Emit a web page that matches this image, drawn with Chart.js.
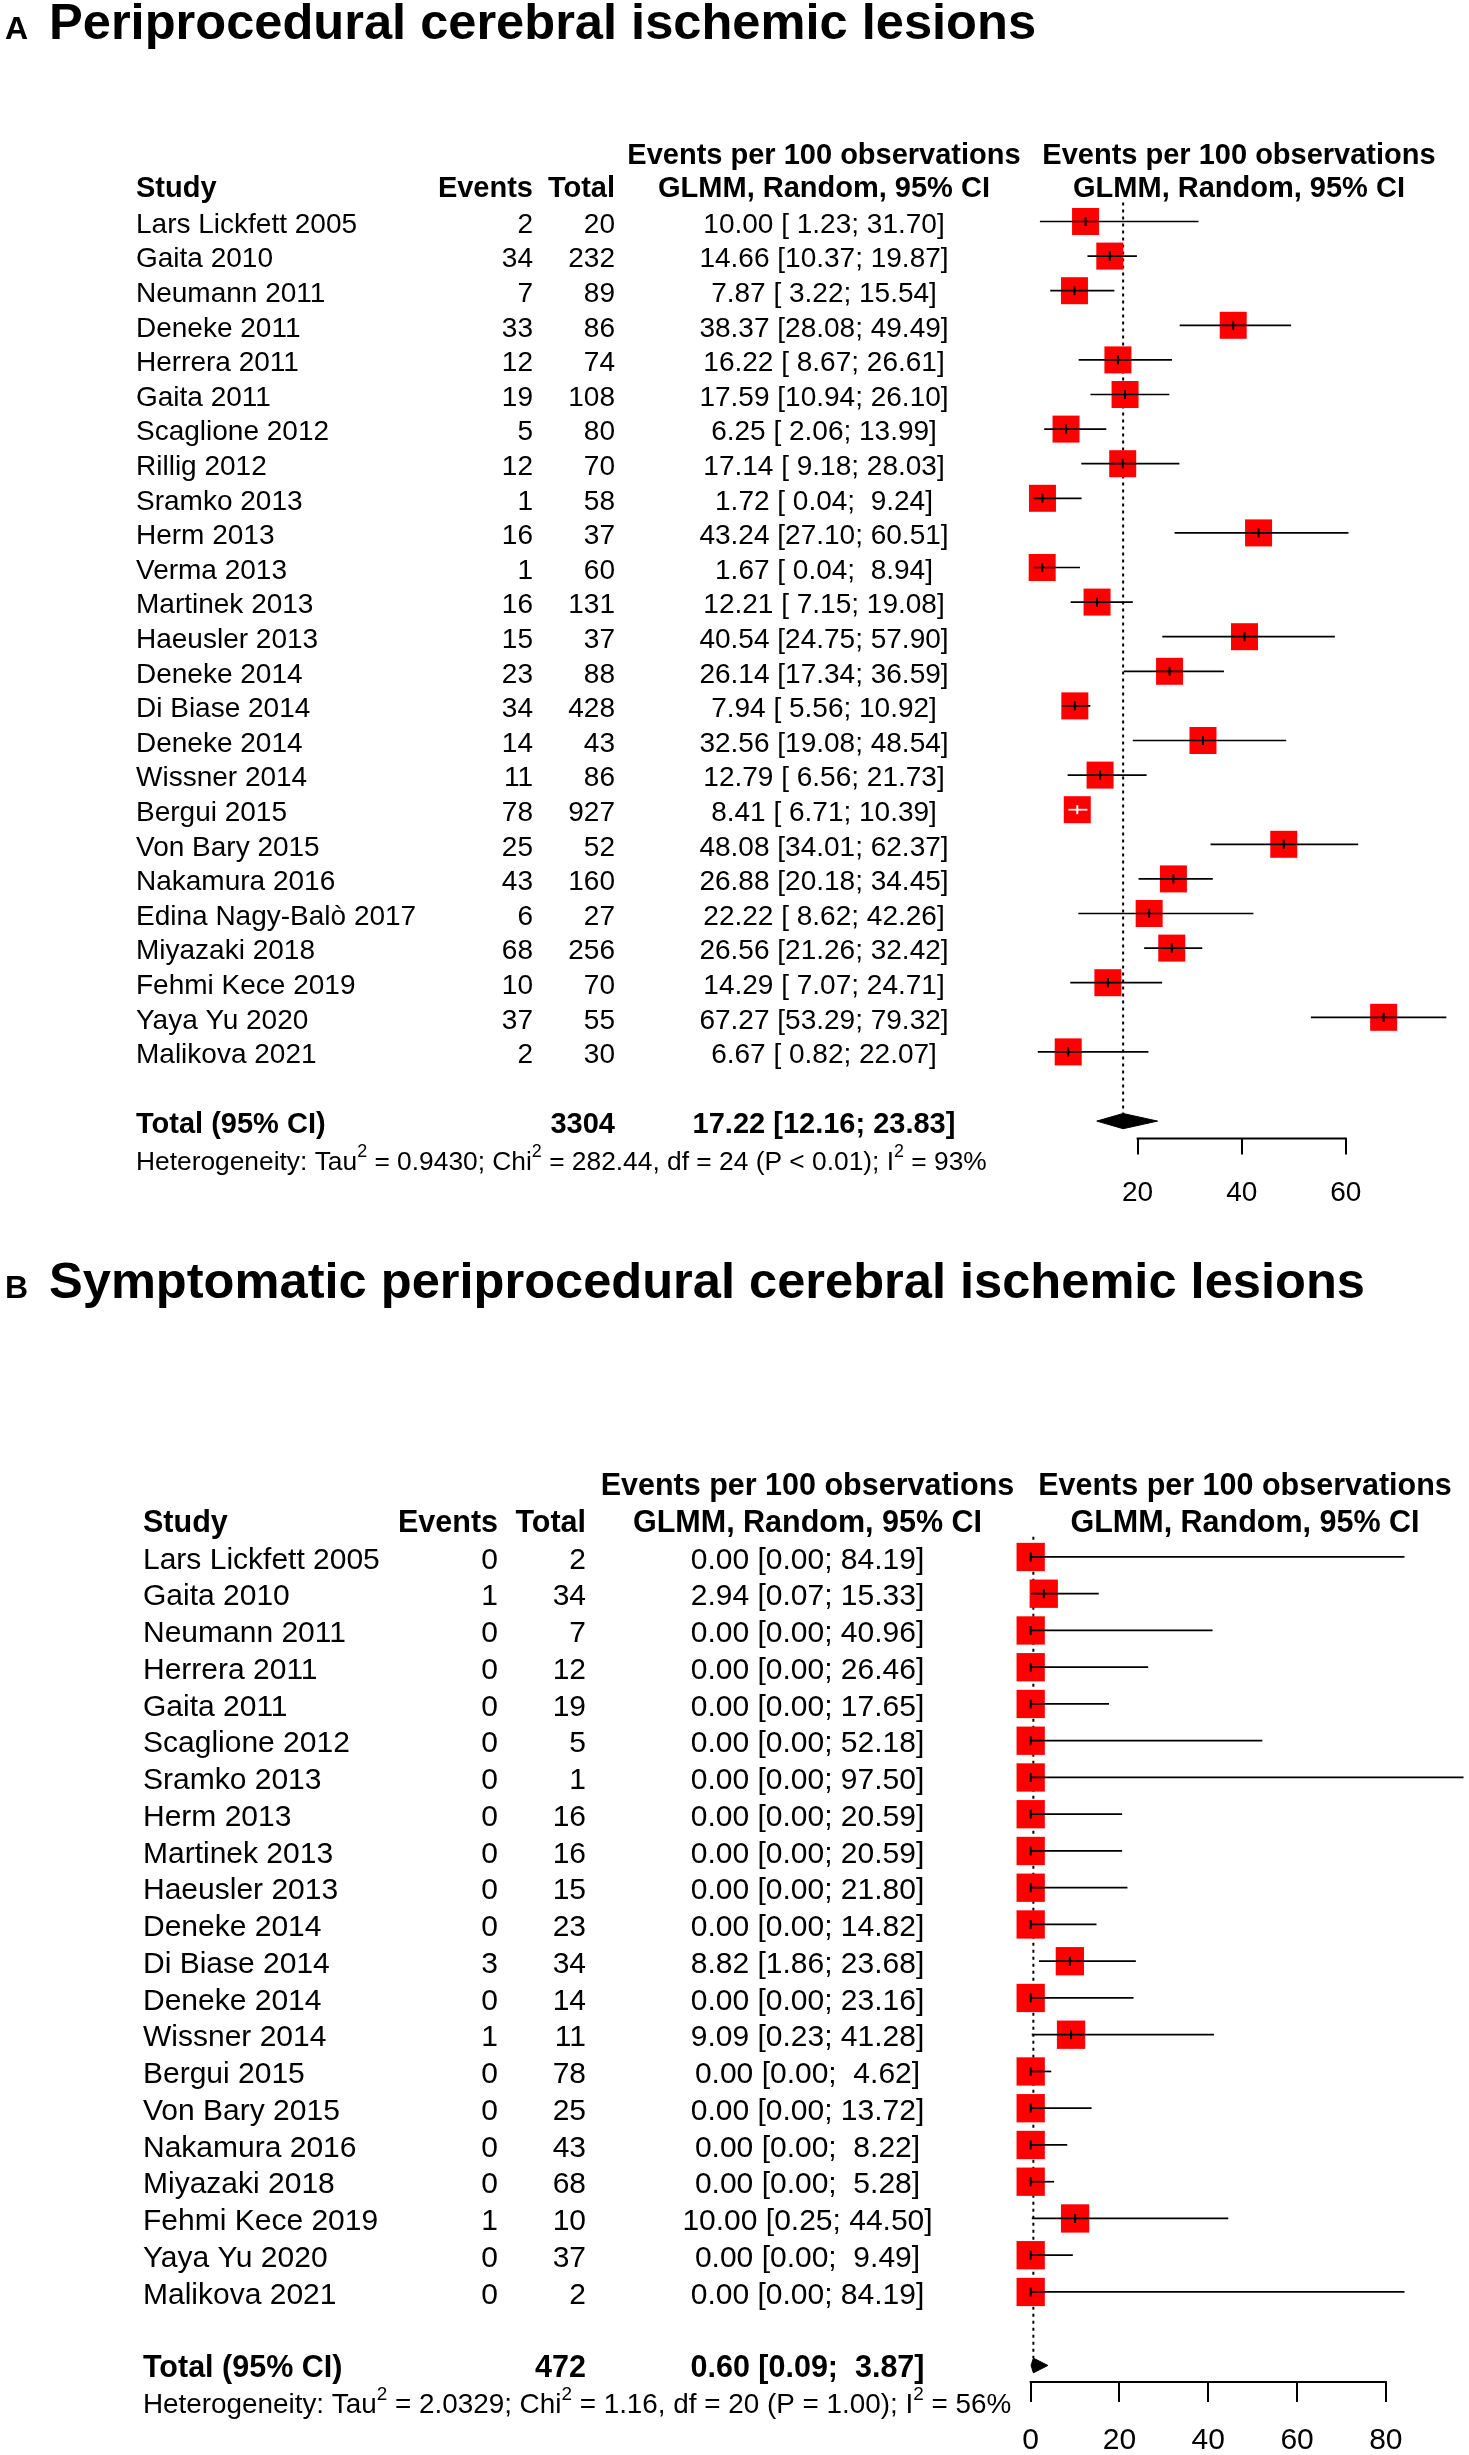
<!DOCTYPE html>
<html>
<head>
<meta charset="utf-8">
<title>Periprocedural cerebral ischemic lesions - forest plots</title>
<script src="https://cdn.jsdelivr.net/npm/chart.js@4.4.0/dist/chart.umd.min.js"></script>
<style>
    html, body { margin: 0; padding: 0; background: #fff; }
    body { width: 1469px; height: 2455px; position: relative; overflow: hidden; font-family: "Liberation Sans", Arial, sans-serif; color: #000; }
    .panel { position: absolute; left: 0; width: 1469px; }
    .panel canvas { position: absolute; left: 0; top: 0; }
    .tag { position: absolute; font-weight: bold; font-size: 32px; line-height: 1; }
    .title { position: absolute; font-weight: bold; font-size: 50.6px; line-height: 1; white-space: nowrap; }
</style>
</head>
<body>

<div class="panel" style="top:0; height:1230px;">
    <canvas id="chartA" width="1469" height="1230"></canvas>
    <div class="tag" style="left:5px; top:12px;">A</div>
    <div class="title" style="left:49px; top:-3px;">Periprocedural cerebral ischemic lesions</div>
</div>

<div class="panel" style="top:1230px; height:1225px;">
    <canvas id="chartB" width="1469" height="1225"></canvas>
    <div class="tag" style="left:5px; top:41px;">B</div>
    <div class="title" style="left:49px; top:26px;">Symptomatic periprocedural cerebral ischemic lesions</div>
</div>

<script>
const FONT = '"Liberation Sans", Arial, sans-serif';

// ---- Panel A: all periprocedural lesions ----
const studiesA = ['Lars Lickfett 2005', 'Gaita 2010', 'Neumann 2011', 'Deneke 2011', 'Herrera 2011',
    'Gaita 2011', 'Scaglione 2012', 'Rillig 2012', 'Sramko 2013', 'Herm 2013', 'Verma 2013',
    'Martinek 2013', 'Haeusler 2013', 'Deneke 2014', 'Di Biase 2014', 'Deneke 2014', 'Wissner 2014',
    'Bergui 2015', 'Von Bary 2015', 'Nakamura 2016', 'Edina Nagy-Balò 2017', 'Miyazaki 2018',
    'Fehmi Kece 2019', 'Yaya Yu 2020', 'Malikova 2021'];
const eventsA = [2, 34, 7, 33, 12, 19, 5, 12, 1, 16, 1, 16, 15, 23, 34, 14, 11, 78, 25, 43, 6, 68, 10, 37, 2];
const totalsA = [20, 232, 89, 86, 74, 108, 80, 70, 58, 37, 60, 131, 37, 88, 428, 43, 86, 927, 52, 160, 27, 256, 70, 55, 30];
const estA = [10.00, 14.66, 7.87, 38.37, 16.22, 17.59, 6.25, 17.14, 1.72, 43.24, 1.67, 12.21, 40.54,
    26.14, 7.94, 32.56, 12.79, 8.41, 48.08, 26.88, 22.22, 26.56, 14.29, 67.27, 6.67];
const lowerA = [1.23, 10.37, 3.22, 28.08, 8.67, 10.94, 2.06, 9.18, 0.04, 27.10, 0.04, 7.15, 24.75,
    17.34, 5.56, 19.08, 6.56, 6.71, 34.01, 20.18, 8.62, 21.26, 7.07, 53.29, 0.82];
const upperA = [31.70, 19.87, 15.54, 49.49, 26.61, 26.10, 13.99, 28.03, 9.24, 60.51, 8.94, 19.08, 57.90,
    36.59, 10.92, 48.54, 21.73, 10.39, 62.37, 34.45, 42.26, 32.42, 24.71, 79.32, 22.07];
const pooledA = [17.22, 12.16, 23.83];
const nTotalA = 3304;
const hetA = ['0.9430', '282.44', '24', '< 0.01', '93%'];
const ticksA = [20, 40, 60];

// ---- Panel B: symptomatic lesions ----
const studiesB = ['Lars Lickfett 2005', 'Gaita 2010', 'Neumann 2011', 'Herrera 2011', 'Gaita 2011',
    'Scaglione 2012', 'Sramko 2013', 'Herm 2013', 'Martinek 2013', 'Haeusler 2013', 'Deneke 2014',
    'Di Biase 2014', 'Deneke 2014', 'Wissner 2014', 'Bergui 2015', 'Von Bary 2015', 'Nakamura 2016',
    'Miyazaki 2018', 'Fehmi Kece 2019', 'Yaya Yu 2020', 'Malikova 2021'];
const eventsB = [0, 1, 0, 0, 0, 0, 0, 0, 0, 0, 0, 3, 0, 1, 0, 0, 0, 0, 1, 0, 0];
const totalsB = [2, 34, 7, 12, 19, 5, 1, 16, 16, 15, 23, 34, 14, 11, 78, 25, 43, 68, 10, 37, 2];
const estB = [0.00, 2.94, 0.00, 0.00, 0.00, 0.00, 0.00, 0.00, 0.00, 0.00, 0.00, 8.82, 0.00, 9.09,
    0.00, 0.00, 0.00, 0.00, 10.00, 0.00, 0.00];
const lowerB = [0.00, 0.07, 0.00, 0.00, 0.00, 0.00, 0.00, 0.00, 0.00, 0.00, 0.00, 1.86, 0.00, 0.23,
    0.00, 0.00, 0.00, 0.00, 0.25, 0.00, 0.00];
const upperB = [84.19, 15.33, 40.96, 26.46, 17.65, 52.18, 97.50, 20.59, 20.59, 21.80, 14.82, 23.68,
    23.16, 41.28, 4.62, 13.72, 8.22, 5.28, 44.50, 9.49, 84.19];
const pooledB = [0.60, 0.09, 3.87];
const nTotalB = 472;
const hetB = ['2.0329', '1.16', '20', '= 1.00', '56%'];
const ticksB = [0, 20, 40, 60, 80];

// "est [lo; hi]" with the bounds padded like the R output
function ciLabels(est, lo, hi, pooled) {
    const f = v => v.toFixed(2);
    const los = lo.concat(pooled[1]).map(f);
    const his = hi.concat(pooled[2]).map(f);
    const wl = Math.max(...los.map(s => s.length));
    const wh = Math.max(...his.map(s => s.length));
    return est.concat(pooled[0]).map((e, i) => `${f(e)} [${los[i].padStart(wl)}; ${his[i].padStart(wh)}]`);
}

function put(ctx, s, x, y, align, font) {
    ctx.font = font;
    ctx.textAlign = align;
    ctx.textBaseline = 'middle';
    ctx.fillText(s, x, y);
}

function putHet(ctx, het, x, y, size) {
    const parts = [
        ['Heterogeneity: Tau', false], ['2', true],
        [` = ${het[0]}; Chi`, false], ['2', true],
        [` = ${het[1]}, df = ${het[2]} (P ${het[3]}); I`, false], ['2', true],
        [` = ${het[4]}`, false]
    ];
    let cx = x;
    ctx.textAlign = 'left';
    ctx.textBaseline = 'middle';
    parts.forEach(([s, sup]) => {
        ctx.font = `${sup ? size * 0.68 : size}px ${FONT}`;
        ctx.fillText(s, cx, sup ? y - size * 0.4 : y);
        cx += ctx.measureText(s).width;
    });
}

function buildForest(canvasId, d, look) {
    const n = d.studies.length;
    const totalRow = n + 1;
    const ciText = ciLabels(d.est, d.lower, d.upper, d.pooled);
    const [pe, plo, phi] = d.pooled;
    const h = look.diamondHalf;

    // CI drawn white when it fits inside its square (as meta does)
    const hidden = (chart, i) => {
        const xs = chart.scales.x;
        const c = xs.getPixelForValue(d.est[i]);
        const half = look.box / 2;
        return xs.getPixelForValue(d.lower[i]) >= c - half && xs.getPixelForValue(d.upper[i]) <= c + half;
    };

    const ciPoints = [];
    d.lower.forEach((lo, i) => {
        ciPoints.push({ x: lo, y: i }, { x: d.upper[i], y: i }, { x: d.upper[i], y: null });
    });

    const textLayer = {
        id: 'forestText',
        afterDraw(chart) {
            const { ctx } = chart;
            const xs = chart.scales.x, ys = chart.scales.y;
            const yAt = r => ys.getPixelForValue(r) + look.textDy;
            const reg = `${look.fs}px ${FONT}`;
            const bold = `bold ${look.fsBold}px ${FONT}`;

            ctx.save();
            ctx.fillStyle = '#000';

            // header
            put(ctx, 'Events per 100 observations', look.ciX, yAt(look.headRows[0]), 'center', bold);
            put(ctx, 'Events per 100 observations', look.plotHeadX, yAt(look.headRows[0]), 'center', bold);
            put(ctx, 'Study', look.studyX, yAt(look.headRows[1]), 'left', bold);
            put(ctx, 'Events', look.eventsX, yAt(look.headRows[1]), 'right', bold);
            put(ctx, 'Total', look.totalX, yAt(look.headRows[1]), 'right', bold);
            put(ctx, 'GLMM, Random, 95% CI', look.ciX, yAt(look.headRows[1]), 'center', bold);
            put(ctx, 'GLMM, Random, 95% CI', look.plotHeadX, yAt(look.headRows[1]), 'center', bold);

            // study rows
            d.studies.forEach((name, i) => {
                put(ctx, name, look.studyX, yAt(i), 'left', reg);
                put(ctx, String(d.events[i]), look.eventsX, yAt(i), 'right', reg);
                put(ctx, String(d.totals[i]), look.totalX, yAt(i), 'right', reg);
                put(ctx, ciText[i], look.ciX, yAt(i), 'center', reg);
            });

            // pooled row + heterogeneity
            put(ctx, 'Total (95% CI)', look.studyX, yAt(totalRow), 'left', bold);
            put(ctx, String(d.nTotal), look.totalX, yAt(totalRow), 'right', bold);
            put(ctx, ciText[n], look.ciX, yAt(totalRow), 'center', bold);
            putHet(ctx, d.het, look.studyX, yAt(look.hetRow), look.fsHet);

            // axis line only between first and last tick
            ctx.strokeStyle = '#000';
            ctx.lineWidth = 2;
            ctx.beginPath();
            ctx.moveTo(xs.getPixelForValue(d.ticks[0]) - 1, xs.top);
            ctx.lineTo(xs.getPixelForValue(d.ticks[d.ticks.length - 1]) + 1, xs.top);
            ctx.stroke();
            ctx.restore();
        }
    };

    return new Chart(document.getElementById(canvasId), {
        type: 'scatter',
        data: {
            datasets: [
                {
                    // point estimate tick
                    type: 'scatter',
                    data: d.est.map((v, i) => ({ x: v, y: i })),
                    pointStyle: 'line',
                    pointRotation: 90,
                    pointRadius: look.markHalf,
                    pointBorderWidth: 2,
                    pointBorderColor: c => hidden(c.chart, c.dataIndex) ? '#fff' : '#000',
                    clip: false
                },
                {
                    // confidence intervals
                    type: 'line',
                    data: ciPoints,
                    borderWidth: 1.7,
                    borderColor: '#000',
                    pointRadius: 0,
                    fill: false,
                    spanGaps: false,
                    segment: {
                        borderColor: c => hidden(c.chart, Math.floor(c.p0DataIndex / 3)) ? '#fff' : '#000'
                    },
                    clip: false
                },
                {
                    // study weight squares
                    type: 'scatter',
                    data: d.est.map((v, i) => ({ x: v, y: i })),
                    pointStyle: 'rect',
                    pointRadius: look.box / Math.SQRT2,
                    pointBackgroundColor: '#ff0000',
                    pointBorderWidth: 0,
                    clip: false
                },
                {
                    // pooled diamond
                    type: 'line',
                    data: [
                        { x: plo, y: totalRow }, { x: pe, y: totalRow - h }, { x: phi, y: totalRow },
                        { x: pe, y: totalRow + h }, { x: plo, y: totalRow }
                    ],
                    borderColor: '#000',
                    backgroundColor: '#000',
                    borderWidth: 1,
                    pointRadius: 0,
                    fill: 'shape',
                    clip: false
                },
                {
                    // dotted line at the pooled estimate
                    type: 'line',
                    data: [{ x: pe, y: -0.55 }, { x: pe, y: totalRow - h }],
                    borderColor: '#000',
                    borderWidth: 2,
                    borderDash: [3, 4],
                    pointRadius: 0,
                    fill: false,
                    clip: false
                }
            ]
        },
        options: {
            responsive: false,
            maintainAspectRatio: false,
            animation: false,
            events: [],
            layout: { padding: look.pad },
            plugins: {
                legend: { display: false },
                tooltip: { enabled: false },
                title: { display: false }
            },
            scales: {
                x: {
                    type: 'linear',
                    position: 'bottom',
                    min: look.xMin,
                    max: look.xMax,
                    afterBuildTicks: s => { s.ticks = d.ticks.map(v => ({ value: v })); },
                    afterFit: s => { s.height = look.axisH; s.paddingLeft = 0; s.paddingRight = 0; },
                    border: { display: false },
                    grid: {
                        drawOnChartArea: false,
                        drawTicks: true,
                        tickLength: look.tickLen,
                        color: '#000',
                        lineWidth: 2
                    },
                    ticks: {
                        color: '#000',
                        padding: look.tickPad,
                        autoSkip: false,
                        maxRotation: 0,
                        font: { family: FONT, size: look.fsAxis }
                    }
                },
                y: {
                    type: 'linear',
                    display: false,
                    reverse: true,
                    min: -0.5,
                    max: look.yMax
                }
            }
        },
        plugins: [textLayer]
    });
}

window.addEventListener('load', () => {
    buildForest('chartA', {
        studies: studiesA, events: eventsA, totals: totalsA,
        est: estA, lower: lowerA, upper: upperA,
        pooled: pooledA, nTotal: nTotalA, het: hetA, ticks: ticksA
    }, {
        pad: { left: 1033.5, right: 18.7, top: 204.2, bottom: 11.6 },
        xMin: 0, xMax: 80, yMax: 26.5, axisH: 80,
        box: 27, markHalf: 4.5, diamondHalf: 0.22,
        tickLen: 16, tickPad: 22,
        fs: 28, fsBold: 29, fsHet: 26.35, fsAxis: 28,
        textDy: 3.5, headRows: [-2, -1.05], hetRow: 27.1,
        studyX: 136, eventsX: 533, totalX: 615, ciX: 824, plotHeadX: 1239
    });

    buildForest('chartB', {
        studies: studiesB, events: eventsB, totals: totalsB,
        est: estB, lower: lowerB, upper: upperB,
        pooled: pooledB, nTotal: nTotalB, het: hetB, ticks: ticksB
    }, {
        pad: { left: 1030.7, right: 23.2, top: 308.6, bottom: 0 },
        xMin: 0, xMax: 93.5, yMax: 22.45, axisH: 73,
        box: 28.3, markHalf: 4.5, diamondHalf: 0.2,
        tickLen: 20, tickPad: 21,
        fs: 30, fsBold: 30.5, fsHet: 27.85, fsAxis: 30,
        textDy: 3.5, headRows: [-2, -1], hetRow: 23,
        studyX: 143, eventsX: 498, totalX: 586, ciX: 807.5, plotHeadX: 1245
    });
});
</script>
</body>
</html>
